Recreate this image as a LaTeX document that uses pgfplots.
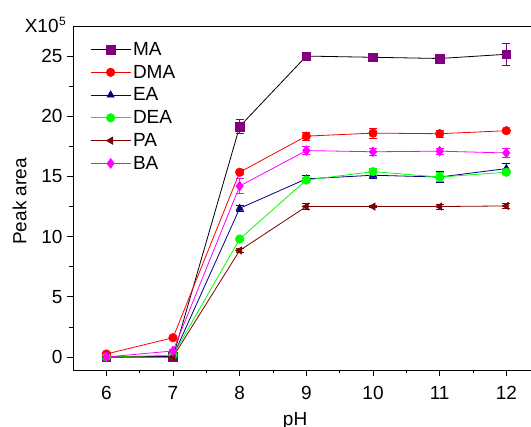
\documentclass[border=0pt]{standalone}
\usepackage{pgfplots}
\pgfplotsset{compat=1.18}
\usepackage{fontspec}
\setmainfont{Liberation Sans}
\definecolor{cMA}{HTML}{800080}
\definecolor{cDMA}{HTML}{FF0000}
\definecolor{cEA}{HTML}{000080}
\definecolor{cDEA}{HTML}{00FF00}
\definecolor{cPA}{HTML}{800000}
\definecolor{cBA}{HTML}{FF00FF}
\newcommand{\ff}{\fontsize{19}{22.7}\selectfont}
\begin{document}
\begin{tikzpicture}
\useasboundingbox (-73pt,-57pt) rectangle (458pt,370pt);
\begin{axis}[
  scale only axis, width=458pt, height=344pt,
  xmin=5.5, xmax=12.37, ymin=-1.08, ymax=27.5,
  separate axis lines,
  axis x line=box, axis y line=left,
  axis line style={line width=0.9pt, -},
  xtick={6,...,12}, minor xtick={6.5,7.5,...,11.5},
  ytick={0,5,...,25}, minor ytick={2.5,7.5,...,22.5},
  xtick pos=bottom, ytick pos=left,
  tick align=outside,
  major tick length=6pt, minor tick length=3.5pt,
  every tick/.style={black, line width=0.8pt},
  /pgf/number format/assume math mode=true,
  tick label style={font=\ff},
  xticklabel style={yshift=-7pt},
  yticklabel style={xshift=-1pt},
  xlabel={pH}, ylabel={Peak area},
  label style={font=\ff},
  xlabel style={at={(rel axis cs:0.485,0)}, anchor=north, yshift=-39pt},
  ylabel style={at={(rel axis cs:0,0.49)}, anchor=south, yshift=43pt},
  clip=false,
  legend style={draw=none, fill=none, font=\ff, at={(rel axis cs:0.035,0.962)}, anchor=north west, row sep=4.2pt, inner sep=1pt},
  legend cell align=left,
  legend image code/.code={\draw[mark repeat=2, mark phase=2] plot coordinates {(0pt,0pt) (20pt,0pt) (40pt,0pt)};},
  every axis plot/.append style={line width=0.8pt, mark size=4.3pt},
  error bars/y dir=both, error bars/y explicit,
  error bars/error mark options={rotate=90, mark size=4pt, line width=0.8pt},
]
\addplot[black, mark=square*, mark options={draw=cMA, fill=cMA, line width=0.5pt}, error bars/error bar style={cMA, line width=0.8pt}]
  table[x=x, y=y, y error=e] {
x y e
6 0 0
7 0 0
8 19.15 0.6
9 25.0 0.2
10 24.9 0.15
11 24.8 0.15
12 25.15 0.9
};
\addlegendentry{MA}
\addplot[cDMA, mark=*, mark options={fill=cDMA, line width=0.5pt}, error bars/error bar style={cDMA, line width=0.8pt}]
  table[x=x, y=y, y error=e] {
x y e
6 0.25 0.1
7 1.6 0.1
8 15.35 0.2
9 18.35 0.35
10 18.6 0.4
11 18.55 0.3
12 18.8 0.15
};
\addlegendentry{DMA}
\addplot[cEA, mark=triangle*, mark options={fill=cEA, line width=0.5pt}, error bars/error bar style={cEA, line width=0.8pt}]
  table[x=x, y=y, y error=e] {
x y e
6 0 0
7 0.05 0
8 12.35 0.25
9 14.8 0.3
10 15.1 0.25
11 14.95 0.45
12 15.65 0.4
};
\addlegendentry{EA}
\addplot[cDEA, mark=*, mark options={fill=cDEA, line width=0.5pt}, error bars/error bar style={cDEA, line width=0.8pt}]
  table[x=x, y=y, y error=e] {
x y e
6 0 0
7 0.15 0
8 9.8 0.15
9 14.7 0.2
10 15.4 0.3
11 14.95 0.4
12 15.35 0.2
};
\addlegendentry{DEA}
\addplot[cPA, mark=triangle*, mark options={fill=cPA, rotate=90, line width=0.5pt}, error bars/error bar style={cPA, line width=0.8pt}]
  table[x=x, y=y, y error=e] {
x y e
6 0 0
7 0 0
8 8.85 0.2
9 12.5 0.25
10 12.5 0.1
11 12.5 0.2
12 12.55 0.2
};
\addlegendentry{PA}
\addplot[cBA, mark=diamond*, mark options={fill=cBA, line width=0.5pt, scale=1.15}, error bars/error bar style={cBA, line width=0.8pt}]
  table[x=x, y=y, y error=e] {
x y e
6 0 0
7 0.5 0.1
8 14.2 0.6
9 17.15 0.35
10 17.05 0.3
11 17.1 0.25
12 16.95 0.35
};
\addlegendentry{BA}
\node[font=\ff, anchor=base east, inner sep=0pt] at ([xshift=-7pt, yshift=-7pt]rel axis cs:0,1) {X10\kern0.5pt\raisebox{7pt}{\fontsize{12}{12}\selectfont 5}};
\end{axis}
\end{tikzpicture}
\end{document}
